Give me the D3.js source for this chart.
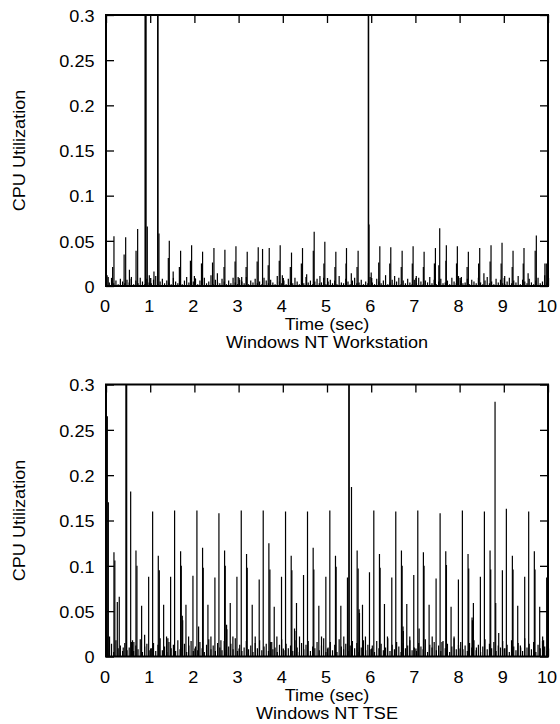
<!DOCTYPE html>
<html>
<head>
<meta charset="utf-8">
<script src="https://cdn.jsdelivr.net/npm/d3@7"></script>
<style>
  html, body { margin: 0; padding: 0; background: #fff; }
  svg { display: block; }
  text { font-family: "Liberation Sans", Arial, Helvetica, sans-serif; fill: #000; }
</style>
</head>
<body>
<svg id="chart" width="560" height="724"></svg>
<script>
"use strict";

// axis ticks
const xTicks = [0, 1, 2, 3, 4, 5, 6, 7, 8, 9, 10];
const xTickLabels = ["0", "1", "2", "3", "4", "5", "6", "7", "8", "9", "10"];
const yTicks = [0, 0.05, 0.1, 0.15, 0.2, 0.25, 0.3];
const yTickLabels = ["0", "0.05", "0.1", "0.15", "0.2", "0.25", "0.3"];

// Windows NT Workstation: [time (sec), utilization]
const wsSpikes = [
    [0.18, 0.055], [0.445, 0.054], [0.716, 0.063], [0.884, 0.45], [0.895, 0.45], [0.906, 0.45],
    [0.934, 0.066], [1.168, 0.4], [1.176, 0.4], [1.198, 0.058], [1.432, 0.050], [1.688, 0.039],
    [1.937, 0.045], [2.185, 0.038], [2.442, 0.042], [2.69, 0.040], [2.94, 0.044], [3.195, 0.038],
    [3.444, 0.043], [3.542, 0.041], [3.693, 0.042], [3.941, 0.045], [4.197, 0.037], [4.446, 0.042],
    [4.71, 0.060], [4.951, 0.049], [5.2, 0.038], [5.441, 0.042], [5.704, 0.039], [5.934, 0.4],
    [5.942, 0.4], [5.95, 0.068], [6.195, 0.044], [6.443, 0.043], [6.7, 0.039], [6.948, 0.044],
    [7.197, 0.038], [7.453, 0.042], [7.55, 0.064], [7.7, 0.045], [7.949, 0.044], [8.198, 0.038],
    [8.455, 0.042], [8.711, 0.045], [8.96, 0.048], [9.209, 0.039], [9.457, 0.042], [9.736, 0.056],
    [9.962, 0.025]
];
const wsSmall = [
    [0.05, 0.010], [0.15, 0.021], [0.41, 0.035], [0.53, 0.018], [0.57, 0.008], [0.68, 0.039],
    [0.98, 0.012], [1.085, 0.016], [1.41, 0.031], [1.52, 0.016], [1.66, 0.021], [1.91, 0.028],
    [2.0, 0.011], [2.16, 0.025], [2.41, 0.026], [2.52, 0.014], [2.67, 0.021], [2.92, 0.027],
    [2.99, 0.010], [3.07, 0.010], [3.17, 0.021], [3.42, 0.027], [3.67, 0.023], [3.92, 0.028],
    [3.99, 0.012], [4.17, 0.021], [4.42, 0.025], [4.54, 0.013], [4.69, 0.039], [4.84, 0.011],
    [4.93, 0.025], [5.18, 0.021], [5.43, 0.025], [5.55, 0.014], [5.68, 0.021], [6.0, 0.015],
    [6.17, 0.026], [6.42, 0.025], [6.53, 0.011], [6.68, 0.021], [6.93, 0.025], [7.02, 0.011],
    [7.18, 0.021], [7.43, 0.025], [7.53, 0.023], [7.69, 0.028], [7.93, 0.025], [8.04, 0.010],
    [8.17, 0.021], [8.43, 0.025], [8.55, 0.014], [8.69, 0.027], [8.94, 0.025], [9.02, 0.011],
    [9.19, 0.021], [9.44, 0.025], [9.55, 0.014], [9.71, 0.039], [9.93, 0.025]
];
// background activity, one sample every 0.05 sec, in thousandths
const wsNoise = [
    12, 4, 9, 3, 6, 2, 8, 5, 3, 7, 4, 10, 2, 6, 3, 9, 5, 2, 8, 4,
    3, 7, 11, 2, 5, 8, 3, 6, 4, 2, 9, 5, 3, 7, 2, 6, 10, 4, 3, 5,
    8, 2, 6, 4, 9, 3, 5, 12, 2, 7, 4, 3, 8, 5, 2, 6, 3, 9, 4, 2,
    7, 5, 3, 10, 2, 6, 4, 8, 3, 5, 2, 9, 6, 3, 7, 4, 2, 11, 5, 3,
    6, 2, 8, 4, 3, 9, 5, 2, 7, 3, 10, 4, 6, 2, 5, 8, 3, 4, 9, 2,
    5, 7, 3, 6, 2, 11, 4, 3, 8, 5, 2, 6, 9, 3, 4, 7, 2, 5, 3, 10,
    4, 2, 8, 5, 3, 6, 12, 2, 4, 7, 3, 5, 9, 2, 6, 3, 8, 4, 2, 7,
    3, 9, 5, 2, 6, 4, 10, 3, 7, 2, 5, 8, 3, 4, 6, 2, 9, 5, 3, 11,
    6, 3, 4, 8, 2, 7, 5, 3, 9, 4, 2, 6, 10, 3, 5, 2, 8, 4, 7, 3,
    2, 5, 9, 3, 6, 4, 11, 2, 7, 5, 3, 8, 4, 2, 6, 9, 3, 5, 12, 4
];

// Windows NT TSE
const tseSpikes = [
    [0.03, 0.265], [0.053, 0.170], [0.18, 0.115], [0.2, 0.106], [0.256, 0.060], [0.30, 0.066],
    [0.452, 0.5], [0.46, 0.5], [0.468, 0.5], [0.558, 0.182], [0.678, 0.117], [0.70, 0.100],
    [0.806, 0.056], [0.965, 0.088], [1.055, 0.160], [1.183, 0.111], [1.206, 0.095], [1.304, 0.057],
    [1.462, 0.088], [1.552, 0.161], [1.688, 0.116], [1.703, 0.100], [1.809, 0.057], [1.967, 0.089],
    [2.057, 0.161], [2.185, 0.120], [2.2, 0.098], [2.306, 0.057], [2.464, 0.087], [2.555, 0.158],
    [2.683, 0.117], [2.698, 0.100], [2.811, 0.059], [2.962, 0.088], [3.06, 0.161], [3.18, 0.113],
    [3.195, 0.098], [3.308, 0.057], [3.466, 0.085], [3.557, 0.161], [3.685, 0.125], [3.708, 0.096],
    [3.806, 0.055], [3.971, 0.088], [4.062, 0.160], [4.19, 0.111], [4.205, 0.095], [4.31, 0.059],
    [4.469, 0.090], [4.559, 0.160], [4.687, 0.120], [4.702, 0.096], [4.815, 0.056], [4.974, 0.088],
    [5.064, 0.161], [5.192, 0.111], [5.207, 0.099], [5.313, 0.056], [5.463, 0.087], [5.494, 0.5],
    [5.502, 0.5], [5.554, 0.187], [5.682, 0.117], [5.704, 0.097], [5.803, 0.057], [5.961, 0.093],
    [6.059, 0.161], [6.187, 0.113], [6.202, 0.098], [6.3, 0.058], [6.466, 0.087], [6.556, 0.160],
    [6.684, 0.117], [6.7, 0.100], [6.805, 0.058], [6.963, 0.090], [7.054, 0.161], [7.181, 0.115],
    [7.196, 0.100], [7.31, 0.057], [7.468, 0.086], [7.559, 0.158], [7.687, 0.116], [7.702, 0.101],
    [7.807, 0.055], [7.973, 0.085], [8.063, 0.161], [8.191, 0.113], [8.206, 0.097], [8.312, 0.059],
    [8.47, 0.088], [8.561, 0.160], [8.689, 0.117], [8.704, 0.096], [8.802, 0.281], [8.817, 0.059],
    [8.968, 0.095], [9.058, 0.163], [9.194, 0.111], [9.209, 0.096], [9.315, 0.056], [9.473, 0.088],
    [9.563, 0.160], [9.691, 0.116], [9.706, 0.096], [9.812, 0.055], [9.97, 0.087]
];
const tseSmall = [
    [0.08, 0.022], [0.39, 0.010], [0.60, 0.018], [0.63, 0.016], [0.874, 0.024], [1.37, 0.022],
    [1.40, 0.020], [1.726, 0.045], [1.735, 0.040], [1.869, 0.022], [2.095, 0.033], [2.374, 0.022],
    [2.60, 0.018], [2.728, 0.035], [2.735, 0.030], [2.871, 0.022], [3.376, 0.022], [3.75, 0.016],
    [3.866, 0.022], [4.265, 0.031], [4.272, 0.028], [4.378, 0.022], [4.876, 0.022], [5.38, 0.022],
    [5.727, 0.052], [5.735, 0.048], [5.87, 0.022], [6.368, 0.022], [6.72, 0.033], [6.727, 0.028],
    [6.873, 0.022], [7.084, 0.031], [7.38, 0.022], [7.60, 0.016], [7.875, 0.022], [8.282, 0.043],
    [8.29, 0.040], [8.38, 0.010], [8.885, 0.026], [9.382, 0.010], [9.879, 0.022], [9.90, 0.018]
];
const tseNoise = [
    22, 8, 14, 5, 18, 9, 12, 6, 15, 7, 10, 16, 6, 12, 8, 19, 5, 11, 14, 7,
    9, 15, 6, 13, 20, 7, 11, 5, 16, 9, 13, 6, 18, 8, 10, 14, 5, 12, 17, 6,
    11, 7, 16, 9, 5, 13, 19, 8, 12, 6, 15, 10, 7, 17, 5, 11, 14, 8, 20, 6,
    13, 6, 10, 17, 8, 12, 5, 15, 9, 18, 7, 11, 14, 6, 16, 8, 10, 5, 13, 19,
    7, 14, 9, 12, 6, 18, 10, 5, 15, 8, 13, 17, 6, 11, 9, 16, 7, 12, 20, 5,
    10, 16, 7, 13, 5, 19, 11, 8, 14, 6, 12, 17, 9, 15, 5, 10, 18, 7, 13, 8,
    12, 5, 17, 9, 14, 7, 10, 20, 6, 13, 8, 16, 11, 5, 15, 9, 12, 18, 7, 10,
    6, 15, 11, 8, 19, 5, 13, 10, 16, 7, 12, 6, 17, 9, 14, 5, 11, 20, 8, 13,
    16, 8, 12, 6, 15, 10, 18, 7, 13, 5, 11, 19, 8, 14, 9, 16, 6, 12, 10, 17,
    9, 13, 5, 18, 11, 7, 15, 12, 6, 20, 10, 14, 8, 16, 5, 13, 9, 17, 11, 6
];
const noiseStep = 0.05;

const xLabel = "Time (sec)";
const yLabel = "CPU Utilization";

const left = 106, right = 548;
const fontSize = 16;
const stretch = 1.13;   // the original lettering is a bit wider than it is tall
const tickLen = 8;

const panels = [
    { spikes: wsSpikes, small: wsSmall, noise: wsNoise, title: "Windows NT Workstation",
      top: 15, bottom: 286 },
    { spikes: tseSpikes, small: tseSmall, noise: tseNoise, title: "Windows NT TSE",
      top: 384.5, bottom: 656.5 }
];

const svg = d3.select("#chart");

const x = d3.scaleLinear().domain([0, 10]).range([left, right]);

// text widened horizontally (along its own direction)
function wideText(g, tx, ty, str, anchor, rotate) {
    return g.append("text")
        .attr("transform", `translate(${tx},${ty})${rotate ? " rotate(" + rotate + ")" : ""} scale(${stretch},1)`)
        .attr("text-anchor", anchor)
        .attr("font-size", fontSize)
        .text(str);
}

function drawPanel(p, idx) {
    const y = d3.scaleLinear().domain([0, 0.3]).range([p.bottom, p.top]);
    const g = svg.append("g").attr("class", "panel");

    g.append("clipPath").attr("id", "clip" + idx)
        .append("rect")
        .attr("x", left).attr("y", p.top)
        .attr("width", right - left).attr("height", p.bottom - p.top);

    const plot = g.append("g").attr("clip-path", `url(#clip${idx})`);

    const noisePts = p.noise.map((v, i) => [i * noiseStep + noiseStep / 2, v / 1000]);
    const all = noisePts.concat(p.small, p.spikes);

    plot.selectAll("line.imp")
        .data(all)
        .enter().append("line")
        .attr("class", "imp")
        .attr("x1", d => x(d[0]))
        .attr("x2", d => x(d[0]))
        .attr("y1", y(0))
        .attr("y2", d => y(d[1]))
        .attr("stroke", "#000")
        .attr("stroke-width", 1.2);

    // ticks pointing inward on all four sides
    g.append("g").attr("transform", `translate(0,${p.bottom})`)
        .call(d3.axisBottom(x).tickValues(xTicks).tickFormat("").tickSize(-tickLen));
    g.append("g").attr("transform", `translate(0,${p.top})`)
        .call(d3.axisTop(x).tickValues(xTicks).tickFormat("").tickSize(-tickLen));
    g.append("g").attr("transform", `translate(${left},0)`)
        .call(d3.axisLeft(y).tickValues(yTicks).tickFormat("").tickSize(-tickLen));
    g.append("g").attr("transform", `translate(${right},0)`)
        .call(d3.axisRight(y).tickValues(yTicks).tickFormat("").tickSize(-tickLen));

    g.selectAll(".domain").remove();
    g.selectAll(".tick line").attr("stroke", "#000").attr("stroke-width", 1.3);

    xTicks.forEach((t, i) => wideText(g, x(t) - 1, p.bottom + 26.3, xTickLabels[i], "middle"));
    yTicks.forEach((t, i) => wideText(g, left - 11.5, y(t) + 6.8, yTickLabels[i], "end"));

    g.append("rect")
        .attr("x", left).attr("y", p.top)
        .attr("width", right - left).attr("height", p.bottom - p.top)
        .attr("fill", "none").attr("stroke", "#000").attr("stroke-width", 2);

    const cx = (left + right) / 2;
    wideText(g, cx, p.bottom + 44, xLabel, "middle");
    wideText(g, cx, p.bottom + 62, p.title, "middle");
    wideText(g, 24.5, (p.top + p.bottom) / 2, yLabel, "middle", -90);
}

panels.forEach(drawPanel);
</script>
</body>
</html>
